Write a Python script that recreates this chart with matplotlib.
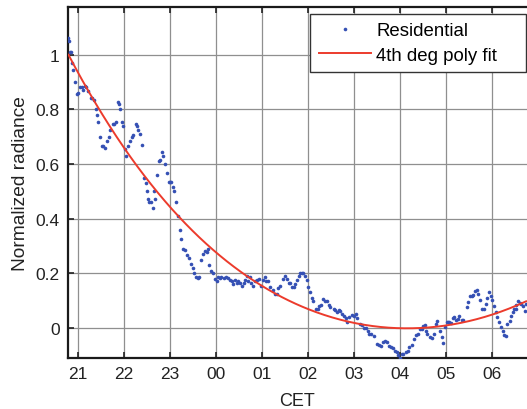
import numpy as np
import matplotlib
matplotlib.use('Agg')
import matplotlib.pyplot as plt

# hours after 21:00 CET are written as 24+, so 04 -> 28
hours = [20.79, 20.81, 20.83, 20.85, 20.87, 20.89, 20.93, 20.97, 21.00, 21.05,
         21.08, 21.11, 21.15, 21.18, 21.22, 21.27, 21.31, 21.34, 21.38, 21.41,
         21.44, 21.47, 21.52, 21.55, 21.59, 21.63, 21.67, 21.70, 21.75, 21.78,
         21.82, 21.86, 21.89, 21.92, 21.95, 21.98, 22.02, 22.05, 22.09, 22.13,
         22.17, 22.20, 22.25, 22.28, 22.31, 22.35, 22.38, 22.43, 22.47, 22.49,
         22.53, 22.55, 22.58, 22.62, 22.65, 22.67, 22.72, 22.76, 22.79, 22.82,
         22.85, 22.89, 22.93, 22.97, 23.00, 23.03, 23.06, 23.09, 23.13,
         23.17, 23.21, 23.25, 23.29, 23.32, 23.38, 23.42, 23.46, 23.49, 23.53,
         23.56, 23.60, 23.63, 23.67, 23.71, 23.76, 23.80, 23.83, 23.85, 23.89,
         23.94, 23.98, 24.02, 24.05, 24.08, 24.12, 24.17, 24.22, 24.26, 24.30,
         24.34, 24.38, 24.42, 24.45, 24.49, 24.52, 24.56, 24.60, 24.63, 24.67,
         24.70, 24.74, 24.77, 24.81, 24.85, 24.90, 24.94, 24.98, 25.02, 25.06,
         25.10, 25.13, 25.17, 25.25, 25.29, 25.32, 25.36, 25.40, 25.46, 25.50,
         25.54, 25.58, 25.62, 25.65, 25.69, 25.72, 25.76, 25.80, 25.83, 25.87,
         25.90, 25.94, 25.98, 26.01, 26.05, 26.09, 26.12, 26.18, 26.22, 26.25,
         26.29, 26.34, 26.38, 26.41, 26.45, 26.49, 26.56, 26.60, 26.63, 26.67,
         26.71, 26.74, 26.79, 26.83, 26.86, 26.90, 26.96, 27.00, 27.05, 27.08,
         27.13, 27.17, 27.22, 27.27, 27.30, 27.34, 27.38, 27.43, 27.50, 27.54,
         27.59, 27.63, 27.68, 27.72, 27.77, 27.80, 27.85, 27.90, 27.94, 27.97,
         28.00, 28.04, 28.08, 28.13, 28.17, 28.21, 28.26, 28.31, 28.36, 28.40,
         28.44, 28.48, 28.51, 28.55, 28.57, 28.60, 28.65, 28.70, 28.75, 28.78,
         28.82, 28.88, 28.91, 28.95, 28.99, 29.02, 29.06, 29.08, 29.11, 29.15,
         29.18, 29.23, 29.27, 29.30, 29.35, 29.38, 29.46, 29.49, 29.53, 29.57,
         29.60, 29.64, 29.68, 29.70, 29.74, 29.80, 29.84, 29.87, 29.91, 29.95,
         29.98, 30.01, 30.05, 30.09, 30.12, 30.17, 30.20, 30.24, 30.28, 30.31,
         30.34, 30.39, 30.42, 30.46, 30.49, 30.52, 30.54, 30.58, 30.62, 30.65,
         30.68, 30.72, 30.75]
radiance = [1.06, 1.05, 1.01, 1.01, 0.97, 0.945, 0.90, 0.855, 0.86, 0.88,
            0.88, 0.87, 0.885, 0.88, 0.867, 0.84, 0.84, 0.835, 0.80, 0.78,
            0.755, 0.70, 0.665, 0.665, 0.66, 0.685, 0.70, 0.725, 0.745, 0.745,
            0.755, 0.825, 0.82, 0.80, 0.755, 0.74, 0.655, 0.63, 0.667, 0.685,
            0.70, 0.705, 0.745, 0.74, 0.725, 0.71, 0.67, 0.55, 0.53, 0.50,
            0.47, 0.46, 0.46, 0.44, 0.50, 0.47, 0.56, 0.61, 0.615, 0.645,
            0.63, 0.60, 0.565, 0.535, 0.535, 0.535, 0.515, 0.50, 0.46,
            0.41, 0.36, 0.325, 0.29, 0.285, 0.265, 0.255, 0.235, 0.22, 0.20,
            0.185, 0.183, 0.187, 0.25, 0.27, 0.28, 0.278, 0.29, 0.23, 0.21,
            0.20, 0.18, 0.17, 0.185, 0.183, 0.186, 0.183, 0.185, 0.182, 0.177,
            0.172, 0.16, 0.175, 0.165, 0.17, 0.163, 0.155, 0.165, 0.175, 0.19,
            0.17, 0.185, 0.165, 0.155, 0.17, 0.175, 0.18, 0.155, 0.175, 0.185,
            0.17, 0.172, 0.15, 0.14, 0.125, 0.123, 0.145, 0.155, 0.18, 0.19,
            0.18, 0.165, 0.163, 0.15, 0.148, 0.16, 0.175, 0.19, 0.20, 0.202,
            0.20, 0.19, 0.175, 0.15, 0.13, 0.11, 0.10, 0.07, 0.068, 0.08,
            0.085, 0.105, 0.10, 0.10, 0.085, 0.075, 0.068, 0.066, 0.057, 0.065,
            0.063, 0.05, 0.043, 0.035, 0.023, 0.04, 0.047, 0.043, 0.05, 0.035,
            0.013, 0.01, 0.0, -0.002, -0.013, -0.022, -0.022, -0.03, -0.06, -0.062,
            -0.065, -0.052, -0.048, -0.05, -0.065, -0.07, -0.075, -0.085, -0.088, -0.10,
            -0.11, -0.097, -0.095, -0.088, -0.085, -0.07, -0.062, -0.04, -0.025, -0.022,
            -0.005, -0.003, 0.008, 0.01, -0.01, -0.022, -0.035, -0.037, -0.022, 0.015,
            0.027, -0.01, -0.035, -0.055, 0.002, 0.02, 0.021, 0.023, 0.018, 0.035,
            0.04, 0.03, 0.032, 0.043, 0.03, 0.03, 0.075, 0.094, 0.115, 0.118,
            0.12, 0.135, 0.14, 0.125, 0.103, 0.07, 0.068, 0.088, 0.108, 0.13,
            0.115, 0.103, 0.082, 0.057, 0.04, 0.02, 0.002, -0.013, -0.025, -0.028,
            0.015, 0.027, 0.043, 0.057, 0.07, 0.068, 0.084, 0.10, 0.09, 0.086,
            0.082, 0.063, 0.088]
tick_hours = [21, 22, 23, 24, 25, 26, 27, 28, 29, 30]
tick_labels = ['21', '22', '23', '00', '01', '02', '03', '04', '05', '06']
y_ticks = [0, 0.2, 0.4, 0.6, 0.8, 1.0]
y_labels = ['0', '0.2', '0.4', '0.6', '0.8', '1']

plt.rcParams['font.family'] = ['Liberation Sans', 'DejaVu Sans']
plt.rcParams['font.size'] = 12.5

hours = np.array(hours)
radiance = np.array(radiance)

# 4th degree polynomial fit of the data
fit = np.polynomial.Polynomial.fit(hours, radiance, 4)
x_fit = np.linspace(hours.min(), hours.max(), 400)

fig = plt.figure(figsize=(5.27, 4.10), dpi=100)
ax = fig.add_axes([68 / 527, 51 / 410, 459 / 527, 351 / 410])

ax.plot(hours, radiance, 'o', color='#3550b4', markersize=2.6, markeredgewidth=0,
        label='Residential', zorder=3)
ax.plot(x_fit, fit(x_fit), color='#ec3b2c', linewidth=1.4, label='4th deg poly fit    ',
        zorder=4)

ax.set_xlim(20.78, 30.77)
ax.set_ylim(-0.11, 1.174)
ax.set_xticks(tick_hours)
ax.set_xticklabels(tick_labels)
ax.set_yticks(y_ticks)
ax.set_yticklabels(y_labels)
ax.grid(True, color='#8f8f8f', linewidth=0.9)
ax.set_axisbelow(True)

ax.tick_params(direction='in', length=4, width=1.2, top=True, right=False, colors='#222222',
               labelcolor='#222222', pad=6)
for side in ['left', 'bottom', 'top']:
    ax.spines[side].set_linewidth(1.6)
    ax.spines[side].set_color('#1a1a1a')
ax.spines['right'].set_visible(False)

ax.set_xlabel('CET', fontsize=13, labelpad=8, color='#222222')
ax.set_ylabel('Normalized radiance', fontsize=13.8, labelpad=5, color='#222222')

leg = ax.legend(loc='upper right', bbox_to_anchor=(0.998, 0.98), borderaxespad=0,
                fancybox=False, framealpha=1, edgecolor='#333333', fontsize=13.4,
                handlelength=2.8, handletextpad=0.3, labelspacing=0.4, borderpad=0.45,
                markerscale=1.0)
leg.get_frame().set_linewidth(1.0)

fig.savefig('out.png', dpi=100)
